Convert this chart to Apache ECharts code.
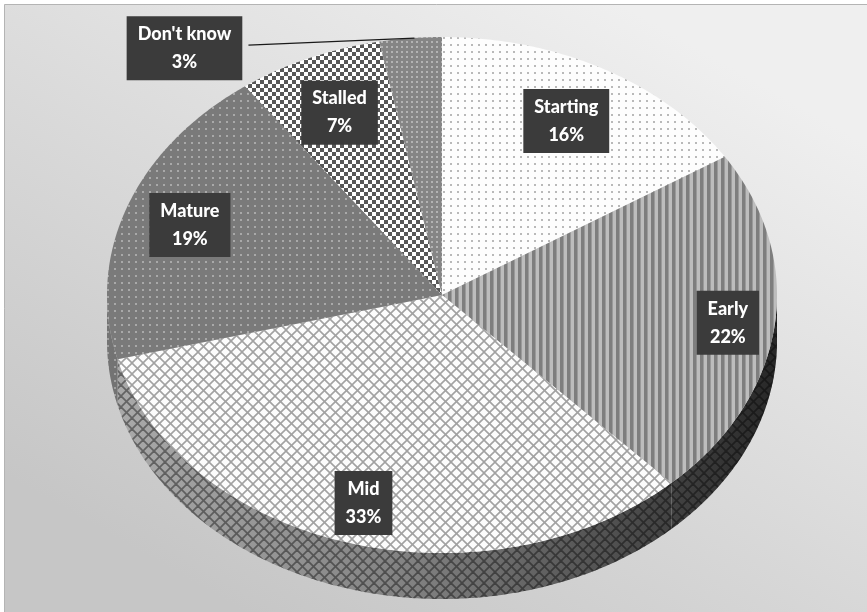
<!DOCTYPE html>
<html>
<head>
<meta charset="utf-8">
<script src="https://cdn.jsdelivr.net/npm/echarts/dist/echarts.min.js"></script>
<style>
  html, body { margin: 0; padding: 0; background: #ffffff; }
  #chart { width: 867px; height: 612px; }
</style>
</head>
<body>
<div id="chart"></div>
<script>
// Stage of adoption, share of respondents (%)
const categories = ['Starting', 'Early', 'Mid', 'Mature', 'Stalled', "Don't know"];
const shares = [16, 22, 33, 19, 7, 3];

// Ellipse that the tilted pie is drawn on
const CX = 442, CY = 295, RX = 335, RY = 258, DEPTH = 46;

// Label placement: fraction of the radius along each slice's middle angle;
// the smallest slice gets an outside label with a leader line.
const labelRadius = [0.77, 0.86, 0.84, 0.80, 0.77, 1.0];
const outsideShift = { 5: [-226, 10] };

// ---- fill patterns ----
function tile(w, h, draw) {
  const c = document.createElement('canvas');
  c.width = w; c.height = h;
  draw(c.getContext('2d'), w, h);
  return { image: c, repeat: 'repeat' };
}
function dots(bg, fg, step, size) {
  return tile(step, step, (g) => {
    g.fillStyle = bg; g.fillRect(0, 0, step, step);
    g.fillStyle = fg; g.fillRect(Math.floor((step - size) / 2), Math.floor((step - size) / 2), size, size);
  });
}
const patterns = [
  dots('#fdfdfd', '#b9b9b9', 7, 2),                         // Starting: light dotted
  tile(7, 4, (g) => {                                       // Early: vertical stripes
    g.fillStyle = '#bdbdbd'; g.fillRect(0, 0, 7, 4);
    g.fillStyle = '#7e7e7e'; g.fillRect(0, 0, 3, 4);
    g.fillStyle = '#9a9a9a'; g.fillRect(3, 0, 1, 4);
  }),
  tile(11, 11, (g) => {                                     // Mid: diamond lattice
    g.fillStyle = '#fcfcfc'; g.fillRect(0, 0, 11, 11);
    g.strokeStyle = '#a2a2a2'; g.lineWidth = 1.6;
    for (const o of [-11, 0, 11]) {
      g.beginPath(); g.moveTo(o, 0); g.lineTo(o + 11, 11); g.stroke();
      g.beginPath(); g.moveTo(o + 11, 0); g.lineTo(o, 11); g.stroke();
    }
  }),
  dots('#7a7a7a', '#a9a9a9', 7, 2),                         // Mature: dark with light dots
  tile(8, 8, (g) => {                                       // Stalled: checkerboard
    g.fillStyle = '#575757'; g.fillRect(0, 0, 8, 8);
    g.fillStyle = '#ffffff'; g.fillRect(0, 0, 4, 4); g.fillRect(4, 4, 4, 4);
  }),
  dots('#858585', '#b3b3b3', 5, 2)                          // Don't know: fine dots
];

// the sides of the pie use a diamond lattice, shaded further in code
const wallPattern = tile(11, 11, (g) => {
  g.fillStyle = '#b4b4b4'; g.fillRect(0, 0, 11, 11);
  g.strokeStyle = '#6a6a6a'; g.lineWidth = 1.8;
  for (const o of [-11, 0, 11]) {
    g.beginPath(); g.moveTo(o, 0); g.lineTo(o + 11, 11); g.stroke();
    g.beginPath(); g.moveTo(o + 11, 0); g.lineTo(o, 11); g.stroke();
  }
});

// ---- geometry helpers ----
const total = shares.reduce((a, b) => a + b, 0);
const startDeg = [], endDeg = [];
let acc = 0;
shares.forEach((v) => { startDeg.push(acc / total * 360); acc += v; endDeg.push(acc / total * 360); });

function pt(deg, f, dy) {
  const r = deg * Math.PI / 180;
  return [CX + RX * f * Math.sin(r), CY - RY * f * Math.cos(r) + (dy || 0)];
}
function arc(a0, a1, dy) {
  const n = Math.max(2, Math.ceil(Math.abs(a1 - a0) / 0.5));
  const out = [];
  for (let i = 0; i <= n; i++) out.push(pt(a0 + (a1 - a0) * i / n, 1, dy));
  return out;
}

const wallShade = new echarts.graphic.LinearGradient(CX - RX, 0, CX + RX, 0, [
  { offset: 0, color: 'rgba(0,0,0,0.05)' },
  { offset: 0.45, color: 'rgba(0,0,0,0.28)' },
  { offset: 0.75, color: 'rgba(0,0,0,0.55)' },
  { offset: 1, color: 'rgba(0,0,0,0.78)' }
], true);

function renderSlice(params, api) {
  const i = params.dataIndex;
  const a0 = startDeg[i], a1 = endDeg[i];
  const children = [];

  // side wall on the visible front half
  const w0 = Math.max(a0, 90), w1 = Math.min(a1, 270);
  if (w1 > w0) {
    const wall = arc(w0, w1, 0).concat(arc(w1, w0, DEPTH));
    const fill = (i === 3) ? patterns[i] : wallPattern;
    children.push({ type: 'polygon', z2: 1, shape: { points: wall }, style: { fill } });
    children.push({ type: 'polygon', z2: 1, shape: { points: wall }, style: { fill: wallShade } });
  }

  // top face
  const top = [[CX, CY]].concat(arc(a0, a1, 0));
  children.push({ type: 'polygon', z2: 2, shape: { points: top }, style: { fill: patterns[i] } });

  // label
  const mid = (a0 + a1) / 2;
  let [lx, ly] = pt(mid, labelRadius[i]);
  const shift = outsideShift[i];
  if (shift) {
    const edge = pt(mid, 1);
    lx = edge[0] + shift[0];
    ly = edge[1] + shift[1];
    children.push({
      type: 'polyline', z2: 9,
      shape: { points: [[lx + 64, ly - 3], [edge[0] + 4, edge[1]]] },
      style: { stroke: '#1a1a1a', lineWidth: 1.2, fill: null }
    });
  }
  children.push({
    type: 'text', z2: 10, x: lx, y: ly,
    style: {
      text: categories[i] + '\n' + api.value(0) + '%',
      fill: '#ffffff',
      fontFamily: 'Lato, "Open Sans", sans-serif',
      fontWeight: 900,
      fontSize: 18,
      align: 'center', verticalAlign: 'middle',
      lineHeight: 28,
      backgroundColor: '#3b3b3b',
      padding: [4, 11, 4, 11],
      boxShadowBlur: 5, boxShadowColor: 'rgba(0,0,0,0.45)',
      boxShadowOffsetX: 2, boxShadowOffsetY: 2
    }
  });
  return { type: 'group', children };
}

const chart = echarts.init(document.getElementById('chart'), null, { renderer: 'canvas' });
chart.setOption({
  animation: false,
  graphic: [{
    type: 'rect', z: -10, silent: true,
    shape: { x: 4.5, y: 4.5, width: 880, height: 620 },
    style: {
      fill: new echarts.graphic.LinearGradient(0.7, 0, 0.3, 1, [
        { offset: 0, color: '#efefef' },
        { offset: 1, color: '#c6c6c6' }
      ]),
      stroke: '#b4b4b4', lineWidth: 1
    }
  }],
  series: [{
    type: 'custom',
    coordinateSystem: 'none',
    renderItem: renderSlice,
    data: shares.map((v, i) => ({ name: categories[i], value: v }))
  }]
});
</script>
</body>
</html>
